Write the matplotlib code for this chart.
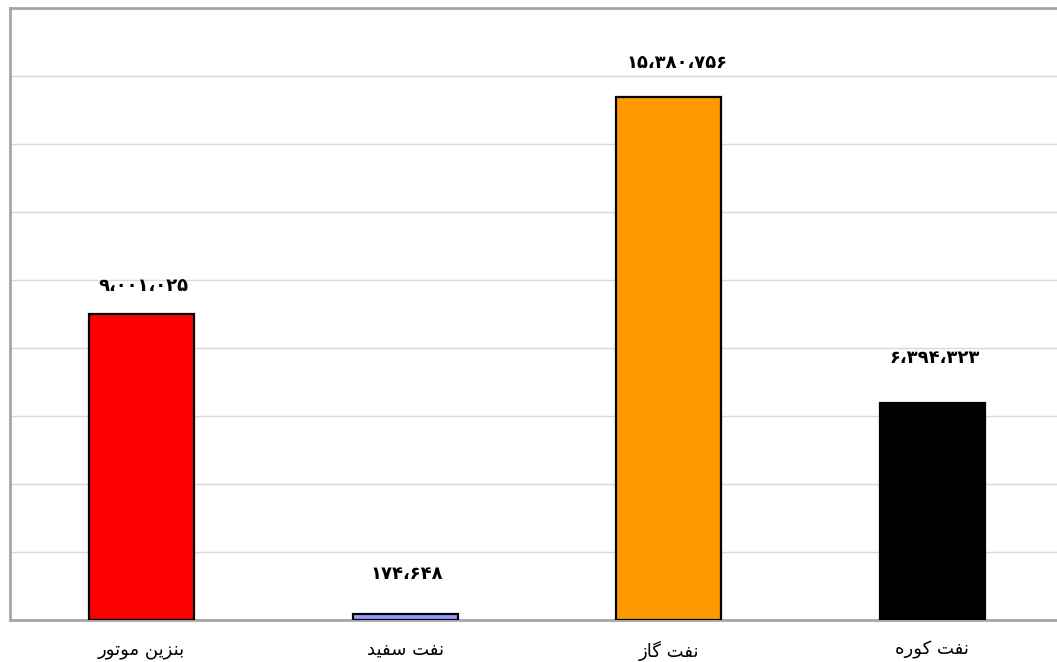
import matplotlib
matplotlib.use("Agg")
import matplotlib.pyplot as plt

# ---- data ----
categories = ["بنزین موتور", "نفت سفید", "نفت گاز", "نفت کوره"]
values = [9001025, 174648, 15380756, 6394323]
value_labels = ["۹،۰۰۱،۰۲۵", "۱۷۴،۶۴۸", "۱۵،۳۸۰،۷۵۶", "۶،۳۹۴،۳۲۳"]
colors = ["#FF0000", "#9999FF", "#FF9900", "#000000"]

# manual Arabic shaping (presentation forms) since matplotlib has no CTL
shaped = {
    "بنزین موتور": "\uFE91\uFEE8\uFEB0\uFEF3\uFEE6 \uFEE3\uFEEE\uFE97\uFEEE\uFEAD",
    "نفت سفید": "\uFEE7\uFED4\uFE96 \uFEB3\uFED4\uFEF4\uFEAA",
    "نفت گاز": "\uFEE7\uFED4\uFE96 \uFB94\uFE8E\uFEAF",
    "نفت کوره": "\uFEE7\uFED4\uFE96 \uFB90\uFEEE\uFEAD\uFEE9",
}

def visual(s):
    return shaped[s][::-1]

label_offsets_px = [28, 40, 34, 45]
label_dx_px = [2, 2, 8, 2]

fig = plt.figure(figsize=(10.57, 6.62), dpi=100)
W, H = 1057, 662
ax = fig.add_axes([10 / W, 42 / H, 1054 / W, 612 / H])

x = list(range(len(categories)))
bars = ax.bar(x, values, width=0.4, color=colors, edgecolor="black", linewidth=1.6, zorder=3)

ax.set_xlim(-0.5, 3.5)
ax.set_ylim(0, 18_000_000)
ax.set_yticks(range(0, 18_000_001, 2_000_000))
ax.yaxis.grid(True, color="#d9d9d9", linewidth=1.0, zorder=0)
ax.set_yticklabels([])
ax.tick_params(axis="both", length=0)

ax.set_xticks(x)
ax.set_xticklabels([visual(c) for c in categories], fontsize=13, family="DejaVu Sans")
ax.tick_params(axis="x", pad=15)

for sp in ["left", "top", "bottom"]:
    ax.spines[sp].set_color("#a6a6a6")
    ax.spines[sp].set_linewidth(2)
ax.spines["right"].set_visible(False)

for xi, v, lab, off, dx in zip(x, values, value_labels, label_offsets_px, label_dx_px):
    ax.annotate(lab, (xi, v), xytext=(dx * 0.72, off * 0.72), textcoords="offset points",
                ha="center", va="center", fontsize=13, fontweight="bold", family="DejaVu Sans")

fig.savefig("out.png", dpi=100)
